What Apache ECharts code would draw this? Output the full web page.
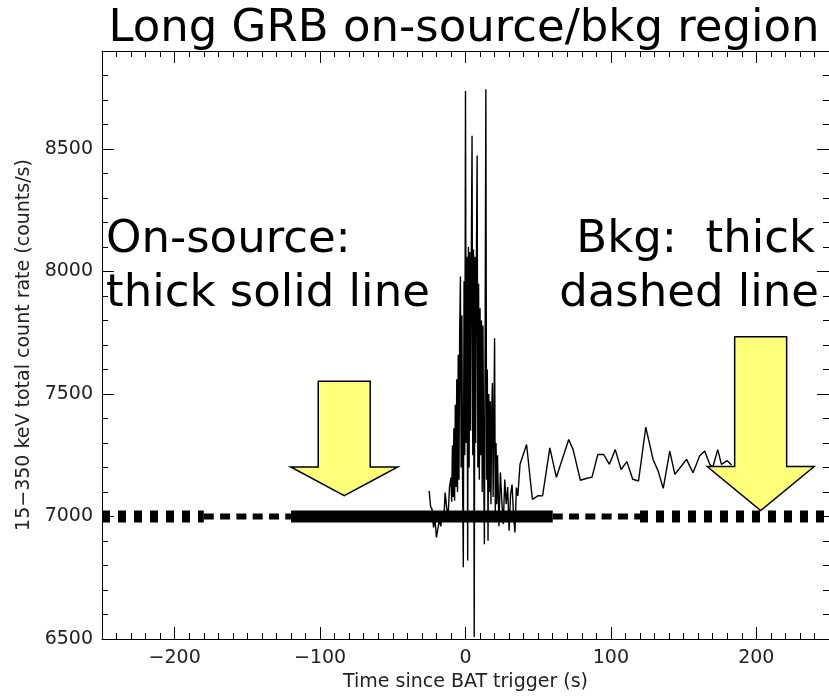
<!DOCTYPE html>
<html>
<head>
<meta charset="utf-8">
<title>Long GRB on-source/bkg region</title>
<script src="https://cdn.jsdelivr.net/npm/echarts@6.0.0/dist/echarts.min.js"></script>
<style>
  html, body { margin: 0; padding: 0; background: #ffffff; }
  #chart { width: 829px; height: 697px; }
</style>
</head>
<body>
<div id="chart"></div>
<script>
// BAT light curve: time since trigger (s) and 15-350 keV total count rate (counts/s).
// 1 s bins before and after the burst, 0.5 s bins through the bright part, coarser later.
const timeSec = [
  -25, -24, -23, -22, -21, -20, -19, -18, -17, -16, -15, -14, -13, -12, -11,
  -10, -9.5, -9, -8.5, -8, -7.5, -7, -6.5, -6, -5.5, -5, -4.5, -4, -3.5, -3, -2.5,
  -2, -1.5, -1, -0.5, 0, 0.5, 1, 1.5, 2, 2.5, 3, 3.5, 4, 4.5, 5, 5.5,
  6, 6.5, 7, 7.5, 8, 8.5, 9, 9.5, 10, 10.5, 11, 11.5, 12, 12.5, 13, 13.5,
  14, 14.5, 15, 15.5, 16, 16.5, 17, 17.5, 18, 18.5, 19, 19.5, 20, 20.5, 21, 21.5, 22,
  23, 24, 25, 26, 27, 28, 29, 30, 31, 32, 33, 34, 35, 36,
  37.5, 42, 46, 50, 53, 58, 62.5, 71, 74, 79, 83, 87,
  91, 95, 99, 103, 107, 111, 115, 119, 124, 129, 132.5, 136, 140.5, 144, 148.5,
  152, 156.5, 161, 164.5, 168, 170, 173.5, 176, 180, 183
];
const countRate = [
  7104, 7040, 7030, 6955, 6990, 6915, 6950, 6985, 6960, 7015, 6980, 7098, 7037, 7000, 7120,
  7159, 7060, 7290, 7080, 7360, 7064, 7456, 7120, 7560, 7100, 7660, 7150, 7760, 7980, 7200, 7820,
  7150, 6793, 7960, 7250, 8737, 7300, 8060, 6820, 8100, 7200, 8080, 7350, 8050, 8554, 7250, 8090,
  6508, 8060, 7300, 8040, 8473, 7200, 7950, 7150, 7850, 7250, 7800, 7100, 7780, 7200, 6887, 7720,
  8744, 7150, 7600, 6901, 7500, 7100, 7470, 7050, 7420, 7545, 7080, 7380, 7728, 7020, 7300, 7050, 7250,
  6960, 7180, 7060, 6969, 7151, 7050, 7120, 6942, 7090, 7130, 7010, 6935, 7118, 7084,
  7213, 7294, 7070, 7085, 7084, 7280, 7160, 7314, 7273, 7148, 7155, 7161,
  7253, 7253, 7213, 7273, 7192, 7224, 7152, 7145, 7365, 7233, 7186, 7115, 7267, 7172, 7206,
  7233, 7179, 7247, 7267, 7213, 7200, 7273, 7213, 7228, 7210
];

// Axis tick labels
const xTickLabels = [-200, -100, 0, 100, 200];
const yTickLabels = [6500, 7000, 7500, 8000, 8500];

// Background level and the time windows drawn along it
const bkgLevel = 7000;
const bkgWindows = [[-250, -180], [120, 250]];
const gapWindows = [[-180, -120], [60, 120]];
const onSourceWindow = [-120, 60];

// Callout arrows: [tip time, tip rate, head base rate, shaft top rate]
const calloutArrows = [
  [-83.4, 7085, 7202, 7552],
  [203, 7024, 7204, 7734]
];

const FONT = '"DejaVu Sans", "Liberation Sans", sans-serif';
const X_MIN = -250, X_MAX = 250, Y_MIN = 6500, Y_MAX = 8900;

const fmtMinus = v => (v < 0 ? '\u2212' + Math.abs(v) : String(v));

// Framed axis carrying the long ticks (and labels on the bottom/left sides)
function mainAxis(kind, position, showLabels, ticks) {
  const isX = kind === 'x';
  return {
    type: 'value',
    position: position,
    min: isX ? X_MIN : Y_MIN,
    max: isX ? X_MAX : Y_MAX,
    axisLine: { show: true, onZero: false, lineStyle: { color: '#000', width: 1 } },
    axisTick: { show: true, inside: true, length: 12, customValues: ticks, lineStyle: { color: '#000', width: 1 } },
    axisLabel: {
      show: showLabels, customValues: ticks, formatter: fmtMinus,
      fontFamily: FONT, fontSize: 19, color: '#222', margin: isX ? 10 : 9
    },
    splitLine: { show: false }
  };
}

// Overlay axis carrying only the short minor ticks
function minorAxis(kind, position) {
  const isX = kind === 'x';
  return {
    type: 'value',
    position: position,
    min: isX ? X_MIN : Y_MIN,
    max: isX ? X_MAX : Y_MAX,
    interval: isX ? 10 : 100,
    axisLine: { show: false, onZero: false },
    axisTick: { show: true, inside: true, length: 6, lineStyle: { color: '#000', width: 1 } },
    axisLabel: { show: false },
    splitLine: { show: false }
  };
}

const xBottom = mainAxis('x', 'bottom', true, xTickLabels);
xBottom.name = 'Time since BAT trigger (s)';
xBottom.nameLocation = 'middle';
xBottom.nameGap = 34;
xBottom.nameTextStyle = { fontFamily: FONT, fontSize: 19, color: '#222' };

const yLeft = mainAxis('y', 'left', true, yTickLabels);
yLeft.name = '15\u2212350 keV total count rate (counts/s)';
yLeft.nameLocation = 'middle';
yLeft.nameRotate = 90;
yLeft.nameGap = 68;
yLeft.nameTextStyle = { fontFamily: FONT, fontSize: 19, color: '#222' };

const curve = timeSec.map((t, i) => [t, countRate[i]]);
const levelSegment = w => [[w[0], bkgLevel], [w[1], bkgLevel]];

const series = [
  {
    type: 'line', data: curve, showSymbol: false, symbol: 'none',
    lineStyle: { color: '#000', width: 1.4 }, z: 3
  }
];
bkgWindows.forEach(w => series.push({
  type: 'line', data: levelSegment(w), symbol: 'none',
  lineStyle: { color: '#000', width: 12, type: [8, 8], cap: 'butt' }, z: 4
}));
gapWindows.forEach(w => series.push({
  type: 'line', data: levelSegment(w), symbol: 'none',
  lineStyle: { color: '#000', width: 6, type: [10, 6.3], cap: 'butt' }, z: 4
}));
series.push({
  type: 'line', data: levelSegment(onSourceWindow), symbol: 'none',
  lineStyle: { color: '#000', width: 12, type: 'solid', cap: 'butt' }, z: 4
});
series.push({
  type: 'custom',
  data: calloutArrows,
  z: 10,
  renderItem: function (params, api) {
    const tip = api.coord([api.value(0), api.value(1)]);
    const base = api.coord([api.value(0), api.value(2)]);
    const top = api.coord([api.value(0), api.value(3)]);
    const cx = tip[0], sw = 26, hw = 53.5;
    return {
      type: 'polygon',
      shape: {
        points: [
          [cx - sw, top[1]], [cx + sw, top[1]], [cx + sw, base[1]], [cx + hw, base[1]],
          [cx, tip[1]], [cx - hw, base[1]], [cx - sw, base[1]]
        ]
      },
      style: { fill: '#ffff7a', stroke: '#000', lineWidth: 1.5, lineJoin: 'miter' }
    };
  }
});

const bigText = { fontFamily: FONT, fontSize: 45, fill: '#000' };

const chart = echarts.init(document.getElementById('chart'), null, { renderer: 'canvas' });
chart.setOption({
  animation: false,
  backgroundColor: '#ffffff',
  grid: { left: 102, right: -3, top: 51, bottom: 55, containLabel: false },
  xAxis: [xBottom, minorAxis('x', 'bottom'), mainAxis('x', 'top', false, xTickLabels), minorAxis('x', 'top')],
  yAxis: [yLeft, minorAxis('y', 'left'), mainAxis('y', 'right', false, yTickLabels), minorAxis('y', 'right')],
  series: series,
  graphic: [
    { type: 'text', x: 464, y: 29, z: 20,
      style: Object.assign({ text: 'Long GRB on-source/bkg region', align: 'center', verticalAlign: 'middle' }, bigText) },
    { type: 'text', x: 106, y: 240, z: 20,
      style: Object.assign({ text: 'On-source:', align: 'left', verticalAlign: 'middle' }, bigText) },
    { type: 'text', x: 106, y: 294, z: 20,
      style: Object.assign({ text: 'thick solid line', align: 'left', verticalAlign: 'middle' }, bigText) },
    { type: 'text', x: 815, y: 240, z: 20,
      style: Object.assign({ text: 'Bkg:  thick', align: 'right', verticalAlign: 'middle' }, bigText) },
    { type: 'text', x: 819, y: 294, z: 20,
      style: Object.assign({ text: 'dashed line', align: 'right', verticalAlign: 'middle' }, bigText) }
  ]
});
</script>
</body>
</html>
